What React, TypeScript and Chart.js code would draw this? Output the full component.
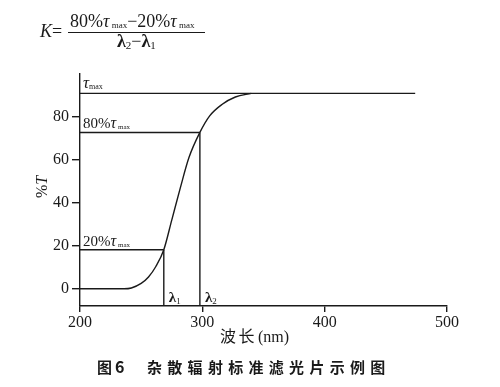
import React, { useEffect, useRef } from "react";
import { Chart, registerables } from "chart.js";

Chart.register(...registerables);

// ---- data ----
const curveWavelength = [200, 236, 242, 250, 256, 262, 268.5, 275, 282, 289, 298, 306, 316, 327, 340];
const curveT = [0, 0, 0.4, 2.5, 5.5, 10.4, 18.2, 32, 47, 61, 72.8, 80.5, 85.8, 89.3, 91];
const tauMax = 91;
const tauMaxLineEnd = 474;
const lambda1 = 268.5;
const lambda2 = 298;
const level20 = 18.2;
const level80 = 72.8;
const xMin = 200;
const xMax = 500;
const yMin = -8;
const yMax = 100;
const xTicks = [200, 300, 400, 500];
const yTicks = [0, 20, 40, 60, 80];

const INK = "#1a1a1a";
const SERIF = "'Liberation Serif', 'DejaVu Serif', serif";
const CJK = "'Noto Sans CJK SC', sans-serif";

type Run = { t: string; f: string; dy?: number };
function drawRuns(ctx: CanvasRenderingContext2D, x: number, y: number, runs: Run[], align: "left" | "center" = "left") {
  let total = 0;
  for (const r of runs) {
    ctx.font = r.f;
    total += ctx.measureText(r.t).width;
  }
  let cx = align === "center" ? x - total / 2 : x;
  for (const r of runs) {
    ctx.font = r.f;
    ctx.fillText(r.t, cx, y + (r.dy || 0));
    cx += ctx.measureText(r.t).width;
  }
  return total;
}

function drawStepped(ctx: CanvasRenderingContext2D, x: number, y: number, text: string, font: string, step: number) {
  ctx.font = font;
  Array.from(text).forEach((ch, i) => ctx.fillText(ch, x + i * step, y));
}

const textPlugin = {
  id: "textPlugin",
  afterDraw(chart: any) {
    const ctx: CanvasRenderingContext2D = chart.ctx;
    const xs = chart.scales.x;
    const ys = chart.scales.y;
    ctx.save();
    ctx.fillStyle = INK;
    ctx.textBaseline = "alphabetic";
    ctx.textAlign = "left";

    const x0 = xs.getPixelForValue(xMin) + 3;
    drawRuns(ctx, x0, ys.getPixelForValue(tauMax) - 5, [
      { t: "τ", f: `italic 17px ${SERIF}` },
      { t: "max", f: `8px ${SERIF}`, dy: 1 },
    ]);
    drawRuns(ctx, x0, ys.getPixelForValue(level80) - 4, [
      { t: "80%", f: `15px ${SERIF}` },
      { t: "τ", f: `italic 16px ${SERIF}` },
      { t: " max", f: `7px ${SERIF}`, dy: 1 },
    ]);
    drawRuns(ctx, x0, ys.getPixelForValue(level20) - 4, [
      { t: "20%", f: `15px ${SERIF}` },
      { t: "τ", f: `italic 16px ${SERIF}` },
      { t: " max", f: `7px ${SERIF}`, dy: 1 },
    ]);
    const yl = ys.getPixelForValue(yMin) - 4;
    drawRuns(ctx, xs.getPixelForValue(lambda1) + 5, yl, [
      { t: "λ", f: `bold 15px ${SERIF}` },
      { t: "1", f: `9px ${SERIF}`, dy: 2 },
    ]);
    drawRuns(ctx, xs.getPixelForValue(lambda2) + 5, yl, [
      { t: "λ", f: `bold 15px ${SERIF}` },
      { t: "2", f: `9px ${SERIF}`, dy: 2 },
    ]);

    // y title
    ctx.save();
    ctx.translate(47, 187);
    ctx.rotate(-Math.PI / 2);
    drawRuns(ctx, 0, 0, [
      { t: "%", f: `16px ${SERIF}` },
      { t: "T", f: `italic 16px ${SERIF}` },
    ], "center");
    ctx.restore();

    // x title
    drawStepped(ctx, 220, 342, "波长", `16px ${CJK}`, 18.5);
    drawRuns(ctx, 258, 342, [{ t: "(nm)", f: `16px ${SERIF}` }]);

    // caption
    drawStepped(ctx, 97, 373, "图", `bold 15px ${CJK}`, 0);
    drawRuns(ctx, 115, 373, [{ t: "6", f: `bold 16px ${CJK}` }]);
    drawStepped(ctx, 147, 373, "杂散辐射标准滤光片示例图", `bold 15px ${CJK}`, 20.3);

    // formula
    drawRuns(ctx, 40, 37, [
      { t: "K", f: `italic 18px ${SERIF}` },
      { t: "=", f: `18px ${SERIF}` },
    ]);
    drawRuns(ctx, 70, 27, [
      { t: "80%", f: `18px ${SERIF}` },
      { t: "τ", f: `italic 18px ${SERIF}` },
      { t: " max", f: `9px ${SERIF}`, dy: 1 },
      { t: "−", f: `18px ${SERIF}` },
      { t: "20%", f: `18px ${SERIF}` },
      { t: "τ", f: `italic 18px ${SERIF}` },
      { t: " max", f: `9px ${SERIF}`, dy: 1 },
    ]);
    ctx.strokeStyle = INK;
    ctx.lineWidth = 1.2;
    ctx.beginPath();
    ctx.moveTo(68, 32.5);
    ctx.lineTo(205, 32.5);
    ctx.stroke();
    drawRuns(ctx, 117, 47, [
      { t: "λ", f: `bold 18px ${SERIF}` },
      { t: "2", f: `11px ${SERIF}`, dy: 2 },
      { t: "−", f: `18px ${SERIF}` },
      { t: "λ", f: `bold 18px ${SERIF}` },
      { t: "1", f: `11px ${SERIF}`, dy: 2 },
    ]);
    ctx.restore();
  },
};

export default function App() {
  const ref = useRef<HTMLCanvasElement>(null);
  useEffect(() => {
    if (!ref.current) return;
    const seg = (pts: { x: number; y: number }[]) => ({
      data: pts,
      showLine: true,
      borderColor: INK,
      borderWidth: 1.4,
      pointRadius: 0,
      fill: false,
    });
    const chart = new Chart(ref.current, {
      type: "scatter",
      data: {
        datasets: [
          {
            ...seg(curveWavelength.map((w, i) => ({ x: w, y: curveT[i] }))),
            cubicInterpolationMode: "monotone",
          } as any,
          seg([{ x: xMin, y: tauMax }, { x: tauMaxLineEnd, y: tauMax }]),
          seg([{ x: xMin, y: level80 }, { x: lambda2, y: level80 }]),
          seg([{ x: xMin, y: level20 }, { x: lambda1, y: level20 }]),
          seg([{ x: lambda1, y: yMin }, { x: lambda1, y: level20 }]),
          seg([{ x: lambda2, y: yMin }, { x: lambda2, y: level80 }]),
        ],
      },
      options: {
        responsive: false,
        animation: false,
        events: [],
        layout: { padding: { left: 0, right: 53, top: 74, bottom: 0 } },
        plugins: { legend: { display: false }, tooltip: { enabled: false } },
        scales: {
          x: {
            type: "linear",
            min: xMin,
            max: xMax,
            afterBuildTicks: (s: any) => {
              s.ticks = xTicks.map((v) => ({ value: v }));
            },
            afterFit: (s: any) => {
              s.height = 81;
            },
            border: { display: true, color: INK, width: 1.4 },
            grid: { drawOnChartArea: false, drawTicks: true, tickLength: 6, color: INK, lineWidth: 1.4 },
            ticks: { color: INK, padding: 1, font: { family: SERIF, size: 16 }, maxRotation: 0 },
          },
          y: {
            type: "linear",
            min: yMin,
            max: yMax,
            afterBuildTicks: (s: any) => {
              s.ticks = yTicks.map((v) => ({ value: v }));
            },
            afterFit: (s: any) => {
              s.width = 80;
            },
            border: { display: true, color: INK, width: 1.4 },
            grid: { drawOnChartArea: false, drawTicks: true, tickLength: 8, color: INK, lineWidth: 1.4 },
            ticks: { color: INK, padding: 3, font: { family: SERIF, size: 16 } },
          },
        },
      },
      plugins: [textPlugin],
    });
    return () => chart.destroy();
  }, []);
  return (
    <div style={{ position: "absolute", left: 0, top: 0, width: 500, height: 387, background: "#fff" }}>
      <canvas ref={ref} width={500} height={387} style={{ display: "block" }} />
    </div>
  );
}
